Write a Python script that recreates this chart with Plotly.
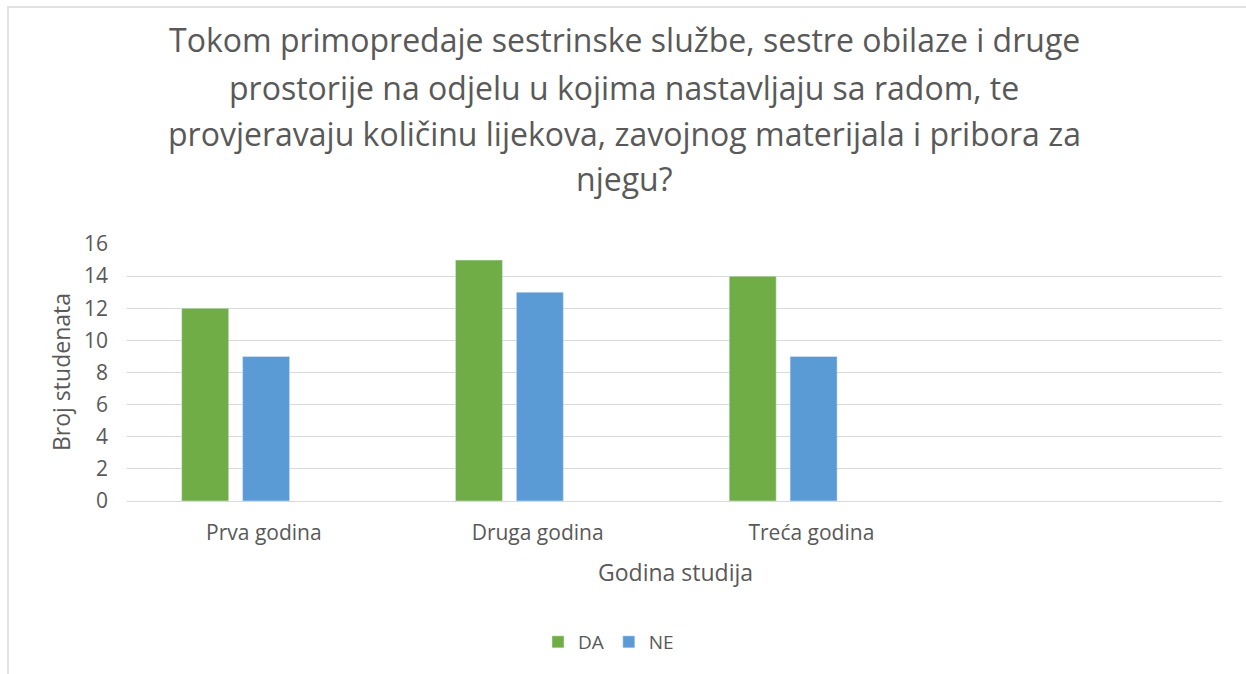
import plotly.graph_objects as go

categories = ["Prva godina", "Druga godina", "Treća godina"]
da_values = [12, 15, 14]
ne_values = [9, 13, 9]
y_ticks = [0, 2, 4, 6, 8, 10, 12, 14, 16]

title_lines = [
    "Tokom primopredaje sestrinske službe, sestre obilaze i druge",
    "prostorije na odjelu u kojima nastavljaju sa radom, te",
    "provjeravaju količinu lijekova, zavojnog materijala i pribora za",
    "njegu?",
]

W, H = 1246, 674
L, R, T, B = 127, 24, 244, 173
pw = W - L - R
ph = H - T - B
cat_px = pw / 4.0
bw = 47 / cat_px

FONT = "Open Sans"
TXT = "#595959"


def px_x(x):
    return (x - L) / pw


def px_y(y):
    return (H - B - y) / ph


fig = go.Figure()
fig.add_trace(go.Bar(x=categories, y=da_values, name="DA", marker_color="#70ad47",
                     width=bw, offset=(181.7 - (L + cat_px / 2)) / cat_px))
fig.add_trace(go.Bar(x=categories, y=ne_values, name="NE", marker_color="#5b9bd5",
                     width=bw, offset=(242.6 - (L + cat_px / 2)) / cat_px))

fig.add_shape(type="rect", xref="paper", yref="paper",
              x0=px_x(8), x1=px_x(W + 20), y0=px_y(H + 20), y1=px_y(7),
              line=dict(color="#d9d9d9", width=1.5), fillcolor="rgba(0,0,0,0)", layer="below")

line_y = [40, 87, 133, 178]
for txt, yy in zip(title_lines, line_y):
    fig.add_annotation(text=txt, xref="paper", yref="paper", x=px_x(624), y=px_y(yy),
                       xanchor="center", yanchor="middle", showarrow=False,
                       font=dict(size=32, color=TXT, family=FONT))

fig.add_annotation(text="Broj studenata", xref="paper", yref="paper", x=px_x(61), y=px_y(372),
                   xanchor="center", yanchor="middle", textangle=-90, showarrow=False,
                   font=dict(size=23, color=TXT, family=FONT))
fig.add_annotation(text="Godina studija", xref="paper", yref="paper", x=px_x(675), y=px_y(572),
                   xanchor="center", yanchor="middle", showarrow=False,
                   font=dict(size=23, color=TXT, family=FONT))

fig.update_layout(
    width=W, height=H,
    margin=dict(l=L, r=R, t=T, b=B),
    paper_bgcolor="white", plot_bgcolor="white",
    font=dict(family=FONT, color=TXT),
    showlegend=True,
    legend=dict(orientation="h", x=538 / W, xanchor="left", xref="container",
                y=(H - 642) / H, yanchor="middle", yref="container",
                font=dict(size=19, color=TXT), itemwidth=30,
                traceorder="normal"),
    xaxis=dict(type="category", range=[-0.5, 3.5], showgrid=False,
               showline=True, linecolor="#d9d9d9", ticks="",
               ticklabelstandoff=13,
               tickfont=dict(size=21, color=TXT)),
    yaxis=dict(range=[0, 16], tickvals=y_ticks, showgrid=True, gridcolor="#d9d9d9",
               gridwidth=1, zeroline=False, showline=False, ticks="",
               ticklabelstandoff=18,
               tickfont=dict(size=21, color=TXT)),
)

fig.write_html("out.html", config={"displayModeBar": False},
               post_script="document.body.style.margin='0';")
